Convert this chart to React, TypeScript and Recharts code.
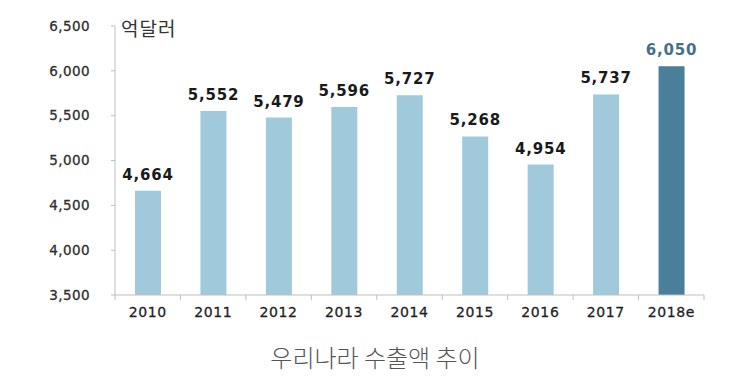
import { BarChart, Bar, XAxis, YAxis, Cell, LabelList } from 'recharts';

const years = ['2010', '2011', '2012', '2013', '2014', '2015', '2016', '2017', '2018e'];
const exports = [4664, 5552, 5479, 5596, 5727, 5268, 4954, 5737, 6050];
const yTicks = [3500, 4000, 4500, 5000, 5500, 6000, 6500];

const data = years.map((year, i) => ({ year, value: exports[i] }));

const LIGHT = '#a0c9dc';
const DARK = '#4a7f99';
const AXIS = '#bfbfbf';

const fmt = (v: number) => v.toLocaleString('en-US');

function YearTick(props: any) {
  const { x, y, payload, index } = props;
  const half = payload && payload.offset ? payload.offset : 32.7;
  const last = index === years.length - 1;
  return (
    <g>
      <line x1={x - half} x2={x - half} y1={y} y2={y + 5} stroke={AXIS} />
      {last && <line x1={x + half} x2={x + half} y1={y} y2={y + 5} stroke={AXIS} />}
      <text
        x={x}
        y={y + 22}
        textAnchor="middle"
        fontSize={14}
        fontFamily="DejaVu Sans"
        fill="#1f1f1f"
        stroke="#1f1f1f"
        strokeWidth={0.3}
        letterSpacing={0.6}
      >
        {payload.value}
      </text>
    </g>
  );
}

function ValueLabel(props: any) {
  const { x, y, width, value, index } = props;
  const last = index === years.length - 1;
  return (
    <text
      x={x + width / 2}
      y={y - 11}
      textAnchor="middle"
      fontSize={15}
      fontWeight="bold"
      fontFamily="DejaVu Sans"
      letterSpacing={0.8}
      fill={last ? '#46708a' : '#1a1a1a'}
    >
      {fmt(value)}
    </text>
  );
}

export default function App() {
  return (
    <div style={{ position: 'absolute', left: 0, top: 0, width: 750, height: 384, background: '#fff' }}>
      <BarChart
        width={750}
        height={384}
        data={data}
        margin={{ top: 26, right: 46, left: 0, bottom: 59 }}
      >
        <XAxis
          dataKey="year"
          height={30}
          tickLine={false}
          tickSize={0}
          tickMargin={0}
          tick={<YearTick />}
          axisLine={{ stroke: AXIS }}
          interval={0}
        />
        <YAxis
          width={115}
          domain={[3500, 6500]}
          ticks={yTicks}
          tickFormatter={fmt}
          tickSize={4}
          tickMargin={21}
          tickLine={{ stroke: AXIS }}
          axisLine={{ stroke: AXIS }}
          tick={{
            fontSize: 13.5,
            fontFamily: 'DejaVu Sans',
            fill: '#2e2e2e',
            stroke: '#2e2e2e',
            strokeWidth: 0.3,
            letterSpacing: 0.4,
          }}
          allowDataOverflow
        />
        <Bar dataKey="value" barSize={26} isAnimationActive={false}>
          {data.map((d, i) => (
            <Cell key={d.year} fill={i === data.length - 1 ? DARK : LIGHT} />
          ))}
          <LabelList dataKey="value" content={<ValueLabel />} />
        </Bar>
      </BarChart>
      <div
        style={{
          position: 'absolute',
          left: 121,
          top: 15,
          fontSize: 19,
          letterSpacing: 1,
          fontFamily: 'Noto Sans CJK KR',
          color: '#333',
          lineHeight: '26px',
        }}
      >
        억달러
      </div>
      <div
        style={{
          position: 'absolute',
          left: 0,
          top: 340,
          width: 750,
          textAlign: 'center',
          fontSize: 24,
          fontFamily: 'Noto Sans CJK KR',
          fontWeight: 300,
          color: '#555',
          lineHeight: '34px',
        }}
      >
        우리나라 수출액 추이
      </div>
    </div>
  );
}
